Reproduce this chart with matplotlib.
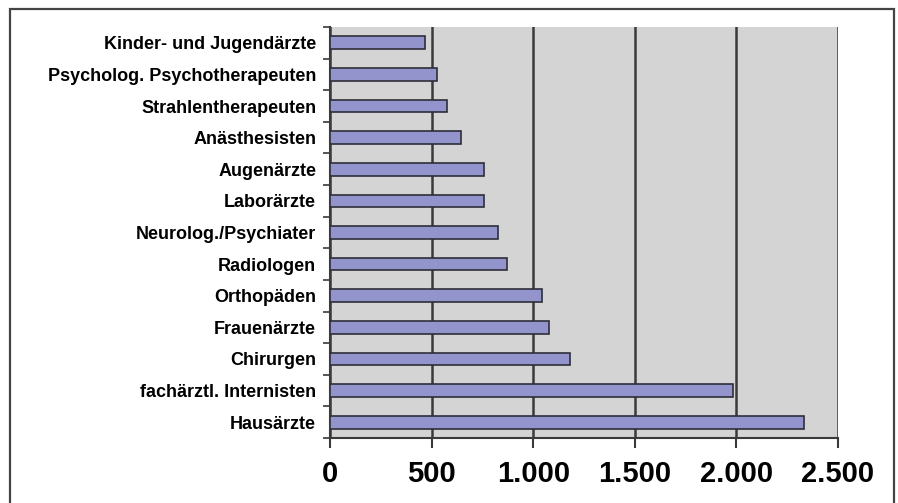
import matplotlib
matplotlib.use("Agg")
import matplotlib.pyplot as plt
from matplotlib.patches import Rectangle
from matplotlib.ticker import FuncFormatter, FixedLocator

# Facharztgruppen, von oben nach unten
categories = [
    "Kinder- und Jugendärzte",
    "Psycholog. Psychotherapeuten",
    "Strahlentherapeuten",
    "Anästhesisten",
    "Augenärzte",
    "Laborärzte",
    "Neurolog./Psychiater",
    "Radiologen",
    "Orthopäden",
    "Frauenärzte",
    "Chirurgen",
    "fachärztl. Internisten",
    "Hausärzte",
]
values = [465, 528, 577, 645, 759, 757, 825, 873, 1042, 1079, 1181, 1982, 2334]
x_ticks = [0, 500, 1000, 1500, 2000, 2500]


def thousands(v, pos):
    """German style thousands separator"""
    return f"{int(v):,}".replace(",", ".")


fig = plt.figure(figsize=(8.98, 5.03), dpi=100)
ax = fig.add_axes([0.3675, 0.1292, 0.5657, 0.8171])

# Excel style: first category on top
positions = list(range(len(categories)))[::-1]
ax.barh(positions, values, height=0.4, color="#9494cc", edgecolor="#2e2e3a",
        linewidth=1.2, zorder=3)

ax.set_facecolor("#d4d4d4")
ax.set_xlim(0, 2500)
ax.set_ylim(-0.5, len(categories) - 0.5)

ax.xaxis.set_major_locator(FixedLocator(x_ticks))
ax.xaxis.set_major_formatter(FuncFormatter(thousands))
ax.grid(axis="x", color="#3a3a3a", linewidth=1.8, zorder=1)
ax.set_axisbelow(True)

ax.set_yticks(positions)
ax.set_yticklabels(categories)
ax.set_yticks([p + 0.5 for p in range(-1, len(categories))], minor=True)
ax.tick_params(axis="y", which="major", length=0, pad=10)
ax.tick_params(axis="y", which="minor", length=5, width=1.2, color="#3a3a3a")
ax.tick_params(axis="x", which="major", length=7, width=1.5, color="#3a3a3a", pad=9)

for lbl in ax.get_yticklabels():
    lbl.set_fontfamily("Liberation Sans")
    lbl.set_fontweight("bold")
    lbl.set_fontsize(13)
for lbl in ax.get_xticklabels():
    lbl.set_fontfamily("Liberation Sans")
    lbl.set_fontweight("bold")
    lbl.set_fontsize(21)

for side in ["top", "right"]:
    ax.spines[side].set_visible(False)
for side in ["left", "bottom"]:
    ax.spines[side].set_color("#3a3a3a")
    ax.spines[side].set_linewidth(1.5)

# outer frame, open at the bottom edge
frame = Rectangle((10 / 898, -0.05), (894 - 10) / 898, 1.05 - 9 / 503,
                  transform=fig.transFigure, fill=False, edgecolor="#444444",
                  linewidth=1.6)
fig.patches.append(frame)

fig.savefig("out.png", dpi=100)
